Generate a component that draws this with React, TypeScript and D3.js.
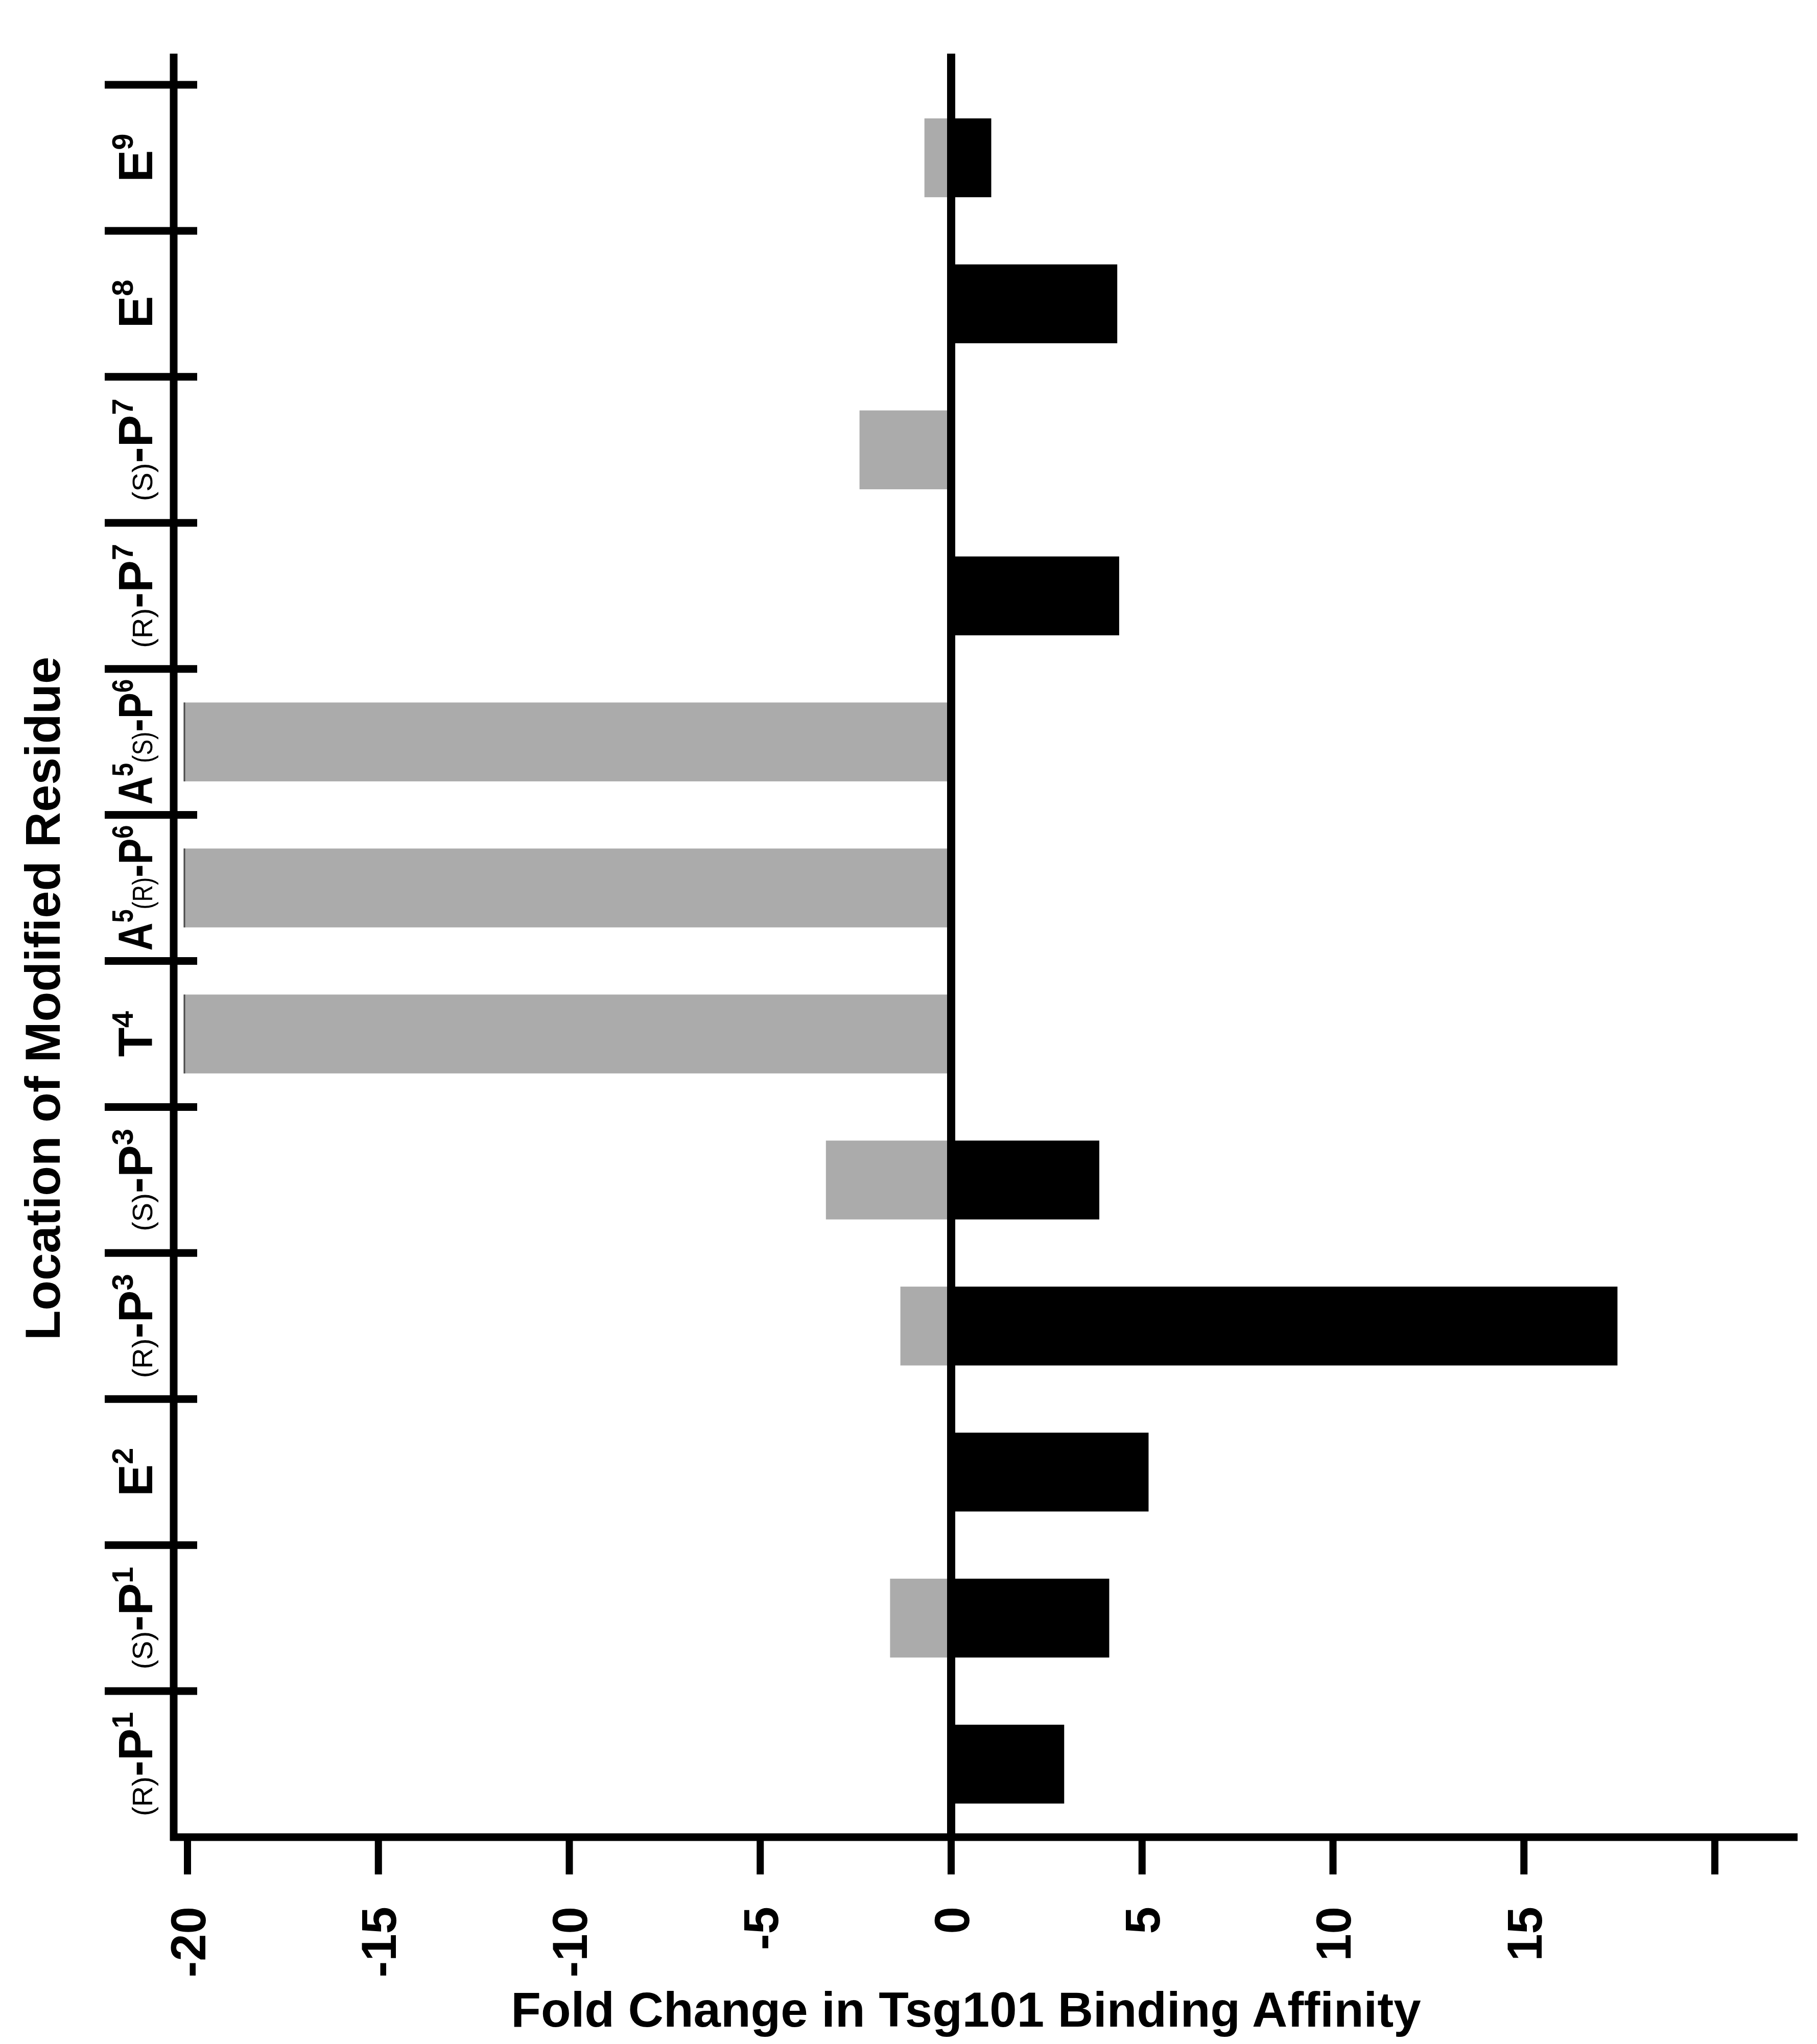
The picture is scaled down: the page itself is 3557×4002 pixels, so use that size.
import { useEffect, useRef } from 'react'
import * as d3 from 'd3'

// residues from top of the chart to the bottom
const residues = ['E9', 'E8', '(S)-P7', '(R)-P7', 'A5(S)-P6', 'A5(R)-P6', 'T4', '(S)-P3', '(R)-P3', 'E2', '(S)-P1', '(R)-P1']

// fold change, grey series (left of zero) and black series (right of zero)
const grayFold = [-0.7, 0, -2.4, 0, -20.1, -20.1, -20.1, -3.28, -1.33, 0, -1.6, 0]
const blackFold = [1.05, 4.35, 0, 4.4, 0, 0, 0, 3.88, 17.45, 5.17, 4.14, 2.96]

const xTicks = [-20, -15, -10, -5, 0, 5, 10, 15, 20]
// the last tick has no number under it
const xTickLabels = [-20, -15, -10, -5, 0, 5, 10, 15]

const xTitle = 'Fold Change in Tsg101 Binding Affinity'
const yTitle = 'Location of Modified Residue'

const W = 3557
const H = 4002
const FONT = "'Liberation Sans', Arial, Helvetica, sans-serif"

export default function App() {
  const svgRef = useRef<SVGSVGElement>(null)

  useEffect(() => {
    if (!svgRef.current) return
    const svg = d3.select(svgRef.current)
    svg.selectAll('*').remove()

    const axisX = 340
    const axisTop = 105
    const axisBottom = 3597
    const axisRight = 3519

    const x = d3.scaleLinear().domain([-20, 20]).range([367, 3357])
    const y = d3.scaleBand<string>().domain(residues).range([166, axisBottom])
    const barH = y.bandwidth() * 0.54
    const barY = (r: string) => (y(r) ?? 0) + (y.bandwidth() - barH) / 2

    const rows = residues.map((r, i) => ({ r, gray: grayFold[i], black: blackFold[i] }))

    // grey bars
    svg.append('g')
      .selectAll('rect')
      .data(rows.filter(d => d.gray !== 0))
      .join('rect')
      .attr('x', d => x(d.gray))
      .attr('y', d => barY(d.r))
      .attr('width', d => x(0) - x(d.gray))
      .attr('height', barH)
      .attr('fill', '#ababab')

    // dark edge on the capped bars
    svg.append('g')
      .selectAll('line')
      .data(rows.filter(d => d.gray <= -20))
      .join('line')
      .attr('x1', d => x(d.gray) + 1.5)
      .attr('x2', d => x(d.gray) + 1.5)
      .attr('y1', d => barY(d.r))
      .attr('y2', d => barY(d.r) + barH)
      .attr('stroke', '#4a4a4a')
      .attr('stroke-width', 3)

    // black bars
    svg.append('g')
      .selectAll('rect')
      .data(rows.filter(d => d.black !== 0))
      .join('rect')
      .attr('x', x(0))
      .attr('y', d => barY(d.r))
      .attr('width', d => x(d.black) - x(0))
      .attr('height', barH)
      .attr('fill', '#000')

    // zero line
    svg.append('line')
      .attr('x1', x(0)).attr('x2', x(0))
      .attr('y1', axisTop).attr('y2', axisBottom)
      .attr('stroke', '#000').attr('stroke-width', 16)

    // left axis and its category ticks
    svg.append('line')
      .attr('x1', axisX).attr('x2', axisX)
      .attr('y1', axisTop).attr('y2', axisBottom + 7)
      .attr('stroke', '#000').attr('stroke-width', 15)

    svg.append('g')
      .selectAll('line')
      .data(residues)
      .join('line')
      .attr('x1', 205).attr('x2', 386)
      .attr('y1', d => y(d) ?? 0)
      .attr('y2', d => y(d) ?? 0)
      .attr('stroke', '#000').attr('stroke-width', 15)

    // bottom axis
    svg.append('line')
      .attr('x1', axisX - 7).attr('x2', axisRight)
      .attr('y1', axisBottom).attr('y2', axisBottom)
      .attr('stroke', '#000').attr('stroke-width', 15)

    svg.append('g')
      .selectAll('line')
      .data(xTicks)
      .join('line')
      .attr('x1', d => x(d)).attr('x2', d => x(d))
      .attr('y1', axisBottom).attr('y2', 3670)
      .attr('stroke', '#000').attr('stroke-width', 14)

    svg.append('g')
      .selectAll('text')
      .data(xTickLabels)
      .join('text')
      .attr('transform', d => `translate(${x(d)},3733) rotate(-90)`)
      .attr('text-anchor', 'end')
      .attr('dy', '0.36em')
      .style('font-family', FONT)
      .style('font-weight', 'bold')
      .style('font-size', '96px')
      .text(d => String(d))

    // residue labels: small (R)/(S), bold letters, superscript positions
    const labels = svg.append('g')
      .selectAll('text')
      .data(residues)
      .join('text')
      .attr('transform', d => `translate(298,${(y(d) ?? 0) + y.bandwidth() / 2}) rotate(-90)`)
      .attr('text-anchor', 'middle')
      .style('font-family', FONT)
      .style('fill', '#000')

    const maxLen = y.bandwidth() - 40
    labels.each(function (d) {
      const t = d3.select(this)
      const parts = d.match(/\([RS]\)|\d+|[^\d(]+/g) ?? []
      let shift = 0
      parts.forEach(p => {
        const span = t.append('tspan').text(p)
        if (/^\d+$/.test(p)) {
          span.attr('dy', -38 - shift).style('font-size', '58px').style('font-weight', 'bold')
          shift = -38
        } else if (p.startsWith('(')) {
          span.attr('dy', -shift).style('font-size', '56px').style('font-weight', 'normal')
          shift = 0
        } else {
          span.attr('dy', -shift).style('font-size', '94px').style('font-weight', 'bold')
          shift = 0
        }
      })
      // squeeze the long labels into their slot
      const len = (this as SVGTextElement).getComputedTextLength()
      if (len > maxLen) {
        t.attr('textLength', maxLen).attr('lengthAdjust', 'spacingAndGlyphs')
      }
    })

    // axis titles
    svg.append('text')
      .attr('x', 1891)
      .attr('y', 3968)
      .attr('text-anchor', 'middle')
      .style('font-family', FONT)
      .style('font-weight', 'bold')
      .style('font-size', '96px')
      .text(xTitle)

    svg.append('text')
      .attr('transform', 'translate(117,1955) rotate(-90)')
      .attr('text-anchor', 'middle')
      .style('font-family', FONT)
      .style('font-weight', 'bold')
      .style('font-size', '96px')
      .text(yTitle)
  }, [])

  return (
    <svg
      ref={svgRef}
      width={W}
      height={H}
      style={{ position: 'absolute', left: 0, top: 0, background: '#fff' }}
    />
  )
}
